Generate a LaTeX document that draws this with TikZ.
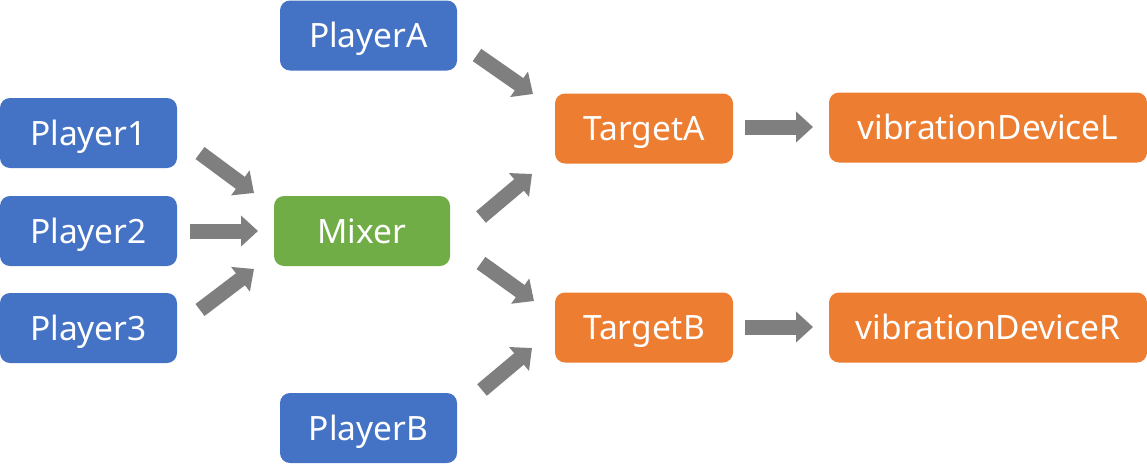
\documentclass[tikz,border=0pt]{standalone}
\usepackage{fontspec}
\setmainfont{Noto Sans}
\usetikzlibrary{arrows.meta}
\definecolor{cblue}{HTML}{4472C4}
\definecolor{cgreen}{HTML}{70AD47}
\definecolor{corange}{HTML}{ED7D31}
\definecolor{cgray}{HTML}{7F7F7F}
\begin{document}
\begin{tikzpicture}[x=1pt,y=-1pt,
  box/.style={rounded corners=10pt, minimum width=177pt, minimum height=70pt, inner sep=0pt,
    text=white, font=\fontsize{33.5pt}{36pt}\selectfont, text height=24pt, text depth=0pt, anchor=center},
  bluebox/.style={box, fill=cblue},
  greenbox/.style={box, fill=cgreen},
  orangebox/.style={box, fill=corange},
  blockarrow/.style={draw=cgray, line width=15pt, -{Triangle[length=17pt,width=30pt]}}]
\useasboundingbox (0,0) rectangle (1147,474);
% nodes
\node[bluebox] (pa) at (368.5,35.5) {PlayerA};
\node[bluebox] (p1) at (88.5,133) {Player1};
\node[bluebox] (p2) at (88.5,231) {Player2};
\node[bluebox] (p3) at (88.5,328) {Player3};
\node[greenbox, minimum width=176pt] (mix) at (362,231) {Mixer};
\node[bluebox] (pb) at (368.5,428) {PlayerB};
\node[orangebox, minimum width=178pt] (ta) at (644,128.5) {TargetA};
\node[orangebox, minimum width=178pt] (tb) at (644,327.5) {TargetB};
\node[orangebox, minimum width=318pt] (dl) at (988,127.5) {vibrationDeviceL};
\node[orangebox, minimum width=318pt] (dr) at (988,327.5) {vibrationDeviceR};
% arrow end points
\coordinate (a1s) at (200,153); \coordinate (a1e) at (254,193);
\coordinate (a2s) at (190,231); \coordinate (a2e) at (258,231);
\coordinate (a3s) at (200,310); \coordinate (a3e) at (254,269);
\coordinate (a4s) at (477,55);  \coordinate (a4e) at (533,94);
\coordinate (a5s) at (481,217); \coordinate (a5e) at (532,174);
\coordinate (a6s) at (481,263); \coordinate (a6e) at (534,301);
\coordinate (a7s) at (482,390); \coordinate (a7e) at (532,348);
\coordinate (a8s) at (745,127); \coordinate (a8e) at (813,127);
\coordinate (a9s) at (745,327); \coordinate (a9e) at (813,327);
% arrows
\draw[blockarrow] (a1s) -- (a1e);
\draw[blockarrow] (a2s) -- (a2e);
\draw[blockarrow] (a3s) -- (a3e);
\draw[blockarrow] (a4s) -- (a4e);
\draw[blockarrow] (a5s) -- (a5e);
\draw[blockarrow] (a6s) -- (a6e);
\draw[blockarrow] (a7s) -- (a7e);
\draw[blockarrow] (a8s) -- (a8e);
\draw[blockarrow] (a9s) -- (a9e);
\end{tikzpicture}
\end{document}
